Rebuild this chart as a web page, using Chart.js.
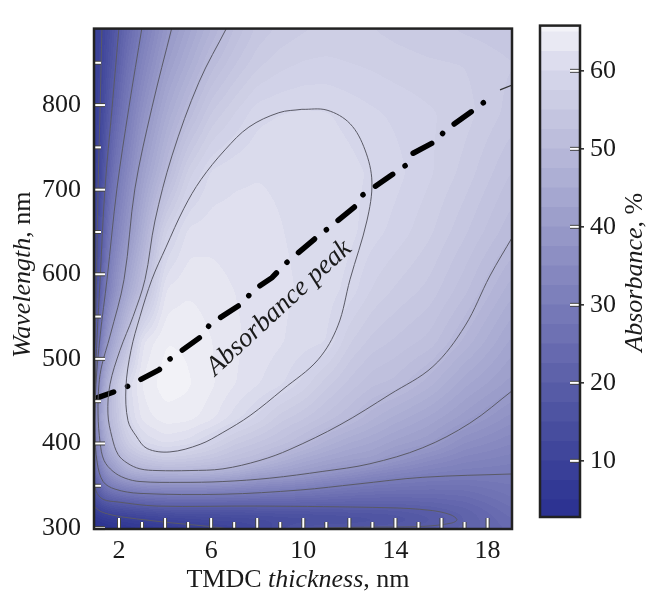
<!DOCTYPE html>
<html>
<head>
<meta charset="utf-8">
<script src="https://cdn.jsdelivr.net/npm/chart.js@4.4.1/dist/chart.umd.min.js"></script>
<style>
  html, body { margin: 0; padding: 0; background: #fff; }
  #wrap { position: relative; width: 648px; height: 592px; }
  #wrap canvas { position: absolute; left: 0; top: 0; }
</style>
</head>
<body>
<div id="wrap">
  <canvas id="mapChart" width="648" height="592"></canvas>
  <canvas id="barChart" width="648" height="592"></canvas>
</div>
<script>
// grid: columns = thickness (nm), rows = wavelength (nm), values = absorbance (%)
const THICKNESS_NM = [0.92, 1.1, 1.4, 1.8, 2.3, 3, 4, 5, 6, 7, 8, 9, 10, 11, 12, 13, 14, 15.5, 17, 19.1];
const WAVELENGTH_NM = [298, 305, 315, 325, 335, 350, 365, 380, 400, 430, 470, 520, 580, 650, 720, 790, 850, 892];
const ABSORBANCE = [
  [2.5, 2.8, 3.2, 3.8, 4.5, 5, 6, 7, 8.5, 10, 12.5, 15.5, 19.5, 20.4, 20.6, 20.7, 20.8, 21, 22, 24],
  [3, 3.5, 4.5, 5.5, 6.5, 7.8, 9, 10.4, 11.4, 12, 12.5, 13.5, 14, 14.5, 15, 15.5, 16.5, 18.5, 21.3, 24.6],
  [5, 7.5, 9, 10, 10.8, 12, 13.2, 13.8, 14, 14, 14.5, 15, 15.2, 15.5, 16, 16.5, 17, 18.8, 21.3, 25.5],
  [9.8, 12, 14.5, 16.1, 17.2, 18.2, 19.5, 19.5, 19.6, 19.6, 19.6, 19.8, 19.8, 20, 20, 20, 20.1, 21, 22.5, 26.5],
  [12.2, 17.1, 20.7, 22.3, 23.7, 25.3, 26.2, 26.3, 26.3, 25.9, 25.6, 25.2, 24.9, 24.3, 23.8, 23.4, 23.3, 23.6, 24.5, 27.5],
  [17, 22.3, 28.3, 32.3, 34.5, 36.4, 37.1, 37.1, 36.8, 36, 34.7, 33.7, 32.6, 30.8, 29.5, 28.6, 28, 27.3, 27.2, 28.7],
  [21, 27.4, 35.6, 39.5, 44.5, 46.9, 47.4, 47.9, 47.2, 45.7, 42.9, 41.7, 40.3, 38.5, 36.7, 34.4, 32.9, 31.3, 30.5, 30.1],
  [24, 31.5, 40.6, 44.2, 50.4, 53.1, 55.3, 54.4, 53.3, 51.5, 50, 46.9, 44.3, 42.6, 41.4, 40.7, 38.2, 35.1, 32.9, 31.6],
  [27, 35, 44.7, 50.1, 55.5, 59.8, 61.5, 60.6, 58.1, 55.3, 53.6, 52, 49.7, 47, 44.9, 43.6, 41.9, 40.1, 36.2, 33.7],
  [28, 41, 47.5, 52.5, 59, 63, 64.5, 64.3, 63, 60.7, 58.5, 55.6, 54, 52, 50.1, 47.8, 45.8, 43.4, 40.6, 36.8],
  [23, 36, 45.2, 53, 60, 64, 65.7, 65.2, 64, 62.6, 61.4, 60.3, 58.3, 55.5, 53.3, 51.5, 50.8, 47.9, 44.1, 40.5],
  [11, 27.6, 38.1, 44.7, 51.8, 62.5, 65, 64.8, 63.8, 62.8, 62, 61.4, 60.6, 60.1, 56.4, 54.5, 53.5, 52, 48.4, 43.2],
  [8.5, 17.9, 29.7, 36.8, 43.8, 51.2, 62.8, 63.6, 63.2, 62.5, 62, 61.5, 61.1, 60.7, 59.5, 57.3, 56, 54.5, 51.6, 46.5],
  [8, 13.9, 24.2, 31.9, 37.6, 45.8, 57.4, 61.7, 62, 61.8, 61.6, 61.3, 61, 60.7, 60.4, 59.3, 58.3, 56.5, 54, 50.2],
  [8, 9.8, 19.2, 27.4, 33.3, 41.3, 49.3, 56.8, 60.3, 61, 61.2, 61.1, 61, 60.8, 60.4, 59.8, 59.2, 57.7, 55.8, 52.3],
  [8, 9, 16, 22.5, 29.2, 36.8, 44.6, 50.2, 55.1, 57.5, 59.6, 60, 60.2, 60.1, 59.6, 59, 58.5, 57.7, 56.8, 54.4],
  [8, 9, 13.8, 18.5, 25.7, 32.8, 40.6, 45.5, 50.4, 53.5, 55.8, 57, 57.6, 57.8, 57.5, 57.2, 56.8, 56.4, 56.2, 55],
  [8, 9, 12, 17.3, 23, 30, 38, 42.9, 47.3, 51.2, 54, 55.2, 56, 56.3, 56.3, 56.2, 55.8, 55.3, 54.7, 54]
];

// contour lines, [thickness, wavelength]
const CONTOUR_10_TOP = [[1.26, 892], [1.18, 797], [1.09, 701], [1.02, 594], [0.96, 527], [0.9, 500]];
const CONTOUR_10_BOTTOM = [[0.9, 327], [0.92, 326], [1.18, 320], [1.61, 316], [2.17, 313], [3.35, 309], [4.34, 306], [5.52, 303], [6.51, 300], [7.1, 297]];
const CONTOUR_20 = [[2.0, 892], [1.7, 797], [1.39, 701], [1.18, 594], [1.05, 527], [0.97, 470], [0.93, 413], [0.93, 367], [1.0, 344], [1.31, 334], [1.91, 331], [3.65, 326], [7.99, 326], [13.76, 324], [15.5, 321], [16.37, 316], [16.67, 310], [16.45, 306], [15.19, 302], [12.33, 301], [9.86, 299], [9.0, 297]];
const CONTOUR_30 = [[3.0, 892], [2.43, 797], [1.91, 701], [1.48, 594], [1.18, 527], [1.0, 470], [0.96, 413], [1.05, 378], [1.31, 355], [1.83, 346], [2.91, 341], [6.51, 340], [9.86, 345], [12.33, 352], [15.19, 360], [19.1, 364]];
const CONTOUR_40 = [[4.3, 892], [3.43, 797], [2.69, 701], [2.22, 594], [1.61, 527], [1.26, 493], [1.13, 470], [1.09, 435], [1.18, 401], [1.35, 380], [1.74, 367], [2.26, 359], [2.91, 355], [4.65, 354], [6.51, 355], [8.55, 359], [10.85, 367], [12.89, 376], [15.19, 395], [17.23, 424], [19.1, 463]];
const CONTOUR_50 = [[6.69, 892], [5.47, 827], [4.3, 740], [3.56, 663], [3.13, 594], [2.61, 550], [2.04, 510], [1.61, 470], [1.52, 435], [1.7, 407], [1.96, 387], [2.35, 377], [2.91, 370], [3.65, 368], [5.08, 368], [6.51, 370], [8.12, 380], [9.42, 393], [11.59, 422], [13.76, 458], [15.63, 491], [17.02, 539], [18.1, 598], [19.1, 645]];
const CONTOUR_60 = [[9.94, 795], [11.03, 794], [12.03, 778], [12.68, 747], [12.98, 709], [12.76, 663], [12.03, 594], [11.5, 539], [10.64, 499], [9.12, 464], [7.69, 433], [6.51, 413], [5.52, 399], [4.21, 390], [3.22, 394], [2.74, 409], [2.39, 427], [2.3, 466], [2.52, 510], [2.91, 550], [3.43, 594], [4.04, 632], [4.82, 678], [5.56, 712], [6.6, 747], [7.64, 774], [8.94, 791], [9.94, 795]];

// absorbance peak
const PEAK_LINE = [[0.92, 452], [0.96, 453], [1.78, 461], [2.26, 466], [3.74, 487], [4.17, 499], [5.6, 527], [5.95, 541], [7.43, 567], [7.77, 580], [8.64, 596], [9.2, 612], [10.59, 644], [11.07, 654], [12.24, 680], [12.59, 694], [13.98, 720], [14.46, 729], [14.76, 743], [15.8, 758], [16.15, 770], [17.45, 795], [17.97, 806]];
const PEAK_TAIL = [[18.54, 818], [19.1, 824]];
const PEAK_LABEL = [8.95, 560];

const X_TICKS = [2, 6, 10, 14, 18];
const X_MARKS = [2, 3, 4, 5, 6, 7, 8, 9, 10, 11, 12, 13, 14, 15, 16, 17, 18];
const Y_TICKS = [300, 400, 500, 600, 700, 800];
const Y_MARKS = [300, 350, 400, 450, 500, 550, 600, 650, 700, 750, 800, 850];
const CB_TICKS = [10, 20, 30, 40, 50, 60];
const CB_BANDS = [2.8, 5, 7.5, 10, 12.5, 15, 17.5, 20, 22.5, 25, 27.5, 30, 32.5, 35, 37.5, 40, 42.5, 45, 47.5, 50, 52.5, 55, 57.5, 60, 62.5, 65, 65.8];

const CMAP_LEVELS = [2.5, 5, 10, 15, 20, 25, 30, 35, 40, 45, 50, 55, 60, 63, 66];
const CMAP_COLORS = ['#2a3090', '#2f3693', '#3c4299', '#4a50a0', '#5a5ea8', '#6a6db1', '#797cb9', '#898bc1', '#999bc9', '#a9abd2', '#b9bada', '#c8c9e2', '#d7d8eb', '#e5e5f1', '#f4f4f8'];

const FONT = "'Liberation Serif', 'Times New Roman', serif";
const TEXT = '#1a1a1a';

const cmapRgb = CMAP_COLORS.map(h => [1, 3, 5].map(i => parseInt(h.substr(i, 2), 16)));

function cmap(v) {
  const n = CMAP_LEVELS.length;
  if (v <= CMAP_LEVELS[0]) return cmapRgb[0];
  if (v >= CMAP_LEVELS[n - 1]) return cmapRgb[n - 1];
  let k = 0;
  while (CMAP_LEVELS[k + 1] < v) k++;
  const f = (v - CMAP_LEVELS[k]) / (CMAP_LEVELS[k + 1] - CMAP_LEVELS[k]);
  return cmapRgb[k].map((c, i) => Math.round(c + (cmapRgb[k + 1][i] - c) * f));
}

// filled-contour look: one colour per band
function bandColor(v, step) {
  const mid = Math.floor(v / step) * step + step / 2;
  return cmap(Math.max(CB_BANDS[0], Math.min(CB_BANDS[CB_BANDS.length - 1], mid)));
}

function segIndex(arr, v) {
  let k = 0;
  while (k < arr.length - 2 && arr[k + 1] < v) k++;
  return k;
}

function valueAt(t, lam) {
  const i = segIndex(THICKNESS_NM, t);
  const j = segIndex(WAVELENGTH_NM, lam);
  const u = Math.max(0, Math.min(1, (t - THICKNESS_NM[i]) / (THICKNESS_NM[i + 1] - THICKNESS_NM[i])));
  const w = Math.max(0, Math.min(1, (lam - WAVELENGTH_NM[j]) / (WAVELENGTH_NM[j + 1] - WAVELENGTH_NM[j])));
  const a = ABSORBANCE[j][i], b = ABSORBANCE[j][i + 1];
  const c = ABSORBANCE[j + 1][i], d = ABSORBANCE[j + 1][i + 1];
  return a * (1 - u) * (1 - w) + b * u * (1 - w) + c * (1 - u) * w + d * u * w;
}

// box blur of the sampled field, to soften the grid kinks (render only)
function boxBlur(src, w, h, r) {
  const tmp = new Float32Array(w * h), out = new Float32Array(w * h);
  for (let j = 0; j < h; j++) {
    for (let i = 0; i < w; i++) {
      let s = 0, n = 0;
      for (let k = -r; k <= r; k++) {
        const ii = Math.min(w - 1, Math.max(0, i + k));
        s += src[j * w + ii]; n++;
      }
      tmp[j * w + i] = s / n;
    }
  }
  for (let j = 0; j < h; j++) {
    for (let i = 0; i < w; i++) {
      let s = 0, n = 0;
      for (let k = -r; k <= r; k++) {
        const jj = Math.min(h - 1, Math.max(0, j + k));
        s += tmp[jj * w + i]; n++;
      }
      out[j * w + i] = s / n;
    }
  }
  return out;
}

const heatmap = {
  id: 'heatmap',
  beforeDatasetsDraw(chart) {
    const { ctx, chartArea: a, scales: { x, y } } = chart;
    const left = Math.round(a.left), top = Math.round(a.top);
    const w = Math.round(a.right) - left, h = Math.round(a.bottom) - top;
    let field = new Float32Array(w * h);
    for (let j = 0; j < h; j++) {
      const lam = y.getValueForPixel(top + j + 0.5);
      for (let i = 0; i < w; i++) {
        field[j * w + i] = valueAt(x.getValueForPixel(left + i + 0.5), lam);
      }
    }
    field = boxBlur(boxBlur(field, w, h, 4), w, h, 4);
    const img = ctx.createImageData(w, h);
    for (let p = 0; p < w * h; p++) {
      const rgb = bandColor(field[p], 1.25);
      img.data[p * 4] = rgb[0]; img.data[p * 4 + 1] = rgb[1]; img.data[p * 4 + 2] = rgb[2]; img.data[p * 4 + 3] = 255;
    }
    ctx.putImageData(img, left, top);
  }
};

function tickMark(ctx, x0, y0, x1, y1) {
  ctx.beginPath();
  ctx.moveTo(x0, y0); ctx.lineTo(x1, y1);
  ctx.lineWidth = 4; ctx.strokeStyle = '#444'; ctx.lineCap = 'butt';
  ctx.stroke();
  ctx.lineWidth = 2; ctx.strokeStyle = '#fff';
  ctx.stroke();
}

function drawPieces(ctx, pieces, size) {
  const widths = pieces.map(p => {
    ctx.font = (p.italic ? 'italic ' : '') + size + 'px ' + FONT;
    return ctx.measureText(p.text).width;
  });
  let x = -widths.reduce((s, v) => s + v, 0) / 2;
  pieces.forEach((p, k) => {
    ctx.font = (p.italic ? 'italic ' : '') + size + 'px ' + FONT;
    ctx.fillText(p.text, x, 0);
    x += widths[k];
  });
}

const frame = {
  id: 'frame',
  afterDatasetsDraw(chart) {
    const { ctx, chartArea: a, scales: { x, y } } = chart;
    ctx.save();
    X_MARKS.forEach(v => {
      const px = x.getPixelForValue(v);
      const len = v % 2 === 0 ? 11 : 7;
      tickMark(ctx, px, a.bottom, px, a.bottom - len);
    });
    Y_MARKS.forEach(v => {
      const py = y.getPixelForValue(v);
      const len = v % 100 === 0 ? 11 : 7;
      tickMark(ctx, a.left, py, a.left + len, py);
    });
    ctx.lineWidth = 2.5; ctx.strokeStyle = '#222';
    ctx.strokeRect(a.left, a.top, a.right - a.left, a.bottom - a.top);

    // label along the peak line
    ctx.fillStyle = TEXT;
    ctx.translate(x.getPixelForValue(PEAK_LABEL[0]), y.getPixelForValue(PEAK_LABEL[1]));
    ctx.rotate(-42.6 * Math.PI / 180);
    ctx.textBaseline = 'middle';
    drawPieces(ctx, [{ text: 'Absorbance peak', italic: true }], 27);
    ctx.restore();
  },
  afterDraw(chart) {
    const { ctx, chartArea: a } = chart;
    ctx.save();
    ctx.fillStyle = TEXT;
    ctx.textBaseline = 'alphabetic';
    ctx.translate((a.left + a.right) / 2 - 5, a.bottom + 58);
    drawPieces(ctx, [{ text: 'TMDC ' }, { text: 'thickness', italic: true }, { text: ', nm' }], 26);
    ctx.restore();
    ctx.save();
    ctx.fillStyle = TEXT;
    ctx.textBaseline = 'middle';
    ctx.translate(23, (a.top + a.bottom) / 2 - 4);
    ctx.rotate(-Math.PI / 2);
    drawPieces(ctx, [{ text: 'Wavelength', italic: true }, { text: ', nm' }], 26);
    ctx.restore();
  }
};

const lineStyle = { showLine: true, pointRadius: 0, borderColor: '#5a5a66', borderWidth: 1, tension: 0.35 };
const toXY = arr => arr.map(p => ({ x: p[0], y: p[1] }));

new Chart(document.getElementById('mapChart'), {
  type: 'scatter',
  data: {
    datasets: [
      { ...lineStyle, data: toXY(CONTOUR_10_TOP) },
      { ...lineStyle, data: toXY(CONTOUR_10_BOTTOM) },
      { ...lineStyle, data: toXY(CONTOUR_20) },
      { ...lineStyle, data: toXY(CONTOUR_30) },
      { ...lineStyle, data: toXY(CONTOUR_40) },
      { ...lineStyle, data: toXY(CONTOUR_50) },
      { ...lineStyle, data: toXY(CONTOUR_60) },
      { showLine: true, pointRadius: 0, borderColor: '#000', borderWidth: 5.5, tension: 0,
        borderCapStyle: 'round', borderDash: [21, 15, 0.1, 15], data: toXY(PEAK_LINE) },
      { showLine: true, pointRadius: 0, borderColor: '#333', borderWidth: 1.2, tension: 0, data: toXY(PEAK_TAIL) }
    ]
  },
  options: {
    responsive: false,
    animation: false,
    layout: { padding: { left: 0, top: 14, right: 136, bottom: 0 } },
    plugins: { legend: { display: false }, tooltip: { enabled: false } },
    scales: {
      x: {
        type: 'linear', min: 0.915, max: 19.06,
        grid: { display: false, drawTicks: false }, border: { display: false },
        afterBuildTicks: s => { s.ticks = X_TICKS.map(v => ({ value: v })); },
        afterFit: s => { s.height = 63; },
        ticks: { font: { family: FONT, size: 26 }, color: TEXT, padding: 7, maxRotation: 0, autoSkip: false }
      },
      y: {
        type: 'linear', min: 298.9, max: 890.4,
        grid: { display: false, drawTicks: false }, border: { display: false },
        afterBuildTicks: s => { s.ticks = Y_TICKS.map(v => ({ value: v })); },
        afterFit: s => { s.width = 94; },
        ticks: { font: { family: FONT, size: 26 }, color: TEXT, padding: 13, autoSkip: false }
      }
    }
  },
  plugins: [heatmap, frame]
});

// colour bar
const cbFrame = {
  id: 'cbFrame',
  afterDatasetsDraw(chart) {
    const { ctx, chartArea: a, scales: { y } } = chart;
    ctx.save();
    CB_TICKS.forEach(v => {
      const py = y.getPixelForValue(v);
      tickMark(ctx, a.right, py, a.right - 10, py);
      ctx.beginPath(); ctx.moveTo(a.right, py); ctx.lineTo(a.right + 4, py);
      ctx.lineWidth = 1.5; ctx.strokeStyle = '#222'; ctx.stroke();
    });
    ctx.lineWidth = 2.5; ctx.strokeStyle = '#222';
    ctx.strokeRect(a.left, a.top, a.right - a.left, a.bottom - a.top);
    ctx.restore();
  },
  afterDraw(chart) {
    const { ctx, chartArea: a } = chart;
    ctx.save();
    ctx.fillStyle = TEXT;
    ctx.textBaseline = 'middle';
    ctx.translate(635, (a.top + a.bottom) / 2 + 1);
    ctx.rotate(-Math.PI / 2);
    drawPieces(ctx, [{ text: 'Absorbance', italic: true }, { text: ', %' }], 26);
    ctx.restore();
  }
};

new Chart(document.getElementById('barChart'), {
  type: 'bar',
  data: {
    labels: [''],
    datasets: CB_BANDS.slice(0, -1).map((lo, k) => {
      const hi = CB_BANDS[k + 1];
      const c = bandColor((lo + hi) / 2, 2.5);
      return {
        data: [[lo, hi]],
        backgroundColor: 'rgb(' + c.join(',') + ')',
        borderWidth: 0, barPercentage: 1, categoryPercentage: 1, grouped: false
      };
    })
  },
  options: {
    responsive: false,
    animation: false,
    layout: { padding: { left: 540, top: 14, right: 0, bottom: 75 } },
    plugins: { legend: { display: false }, tooltip: { enabled: false } },
    scales: {
      x: { display: false },
      y: {
        position: 'right', min: 2.8, max: 65.8,
        grid: { display: false, drawTicks: false }, border: { display: false },
        afterBuildTicks: s => { s.ticks = CB_TICKS.map(v => ({ value: v })); },
        afterFit: s => { s.width = 68; },
        ticks: { font: { family: FONT, size: 26 }, color: TEXT, padding: 10, autoSkip: false }
      }
    }
  },
  plugins: [cbFrame]
});
</script>
</body>
</html>
